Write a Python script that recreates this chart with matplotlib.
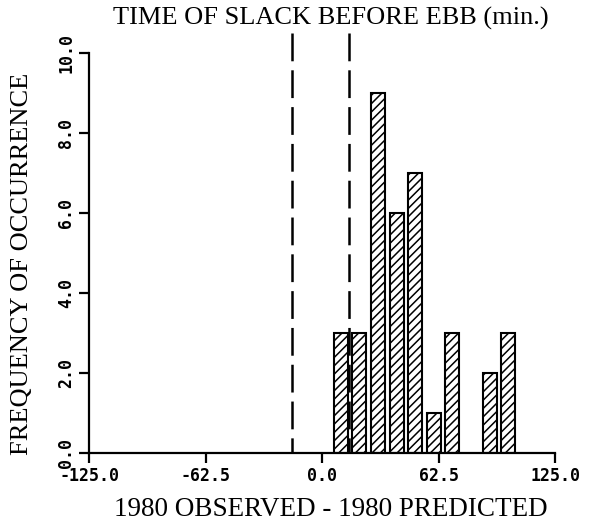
import numpy as np
import matplotlib
matplotlib.use("Agg")
import matplotlib.pyplot as plt

# Histogram of slack-before-ebb timing errors (observed - predicted, minutes)
bin_centers = [10, 20, 30, 40, 50, 60, 70, 90, 100]
counts      = [3, 3, 9, 6, 7, 1, 3, 2, 3]
limit_lines = [-16, 14.5]

x_ticks  = [-125.0, -62.5, 0.0, 62.5, 125.0]
y_ticks  = [0.0, 2.0, 4.0, 6.0, 8.0, 10.0]

SERIF = "Liberation Serif"
MONO  = "DejaVu Sans Mono"

plt.rcParams["lines.scale_dashes"] = False
plt.rcParams["hatch.linewidth"] = 1.1

fig = plt.figure(figsize=(5.96, 5.32), dpi=100)
W, H = 596, 532
ax = fig.add_axes([89 / W, (H - 453) / H, 466 / W, 400 / H])

ax.bar(bin_centers, counts, width=7.5, facecolor="white",
       edgecolor="black", linewidth=1.5, hatch="////", zorder=2)

for xv in limit_lines:
    ax.plot([xv, xv], [10.5, 0], color="black", lw=1.8,
            linestyle=(0, (20, 6.5)), clip_on=False, zorder=3)

ax.set_xlim(-125, 125)
ax.set_ylim(0, 10)
ax.spines["top"].set_visible(False)
ax.spines["right"].set_visible(False)
for s in ("left", "bottom"):
    ax.spines[s].set_linewidth(1.6)

ax.set_xticks(x_ticks)
ax.set_xticklabels([f"{v:.1f}" for v in x_ticks], fontfamily=MONO,
                   fontsize=12, fontweight="bold")
ax.set_yticks(y_ticks)
ax.set_yticklabels([f"{v:.1f}" for v in y_ticks], fontfamily=MONO,
                   fontsize=12, fontweight="bold", rotation=90, va="center")
ax.tick_params(axis="both", direction="out", length=7, width=1.6, pad=3)

fig.text(331 / W, 1 - 18 / H, "TIME OF SLACK BEFORE EBB (min.)",
         fontfamily=SERIF, fontsize=19, ha="center", va="center")
fig.text(331 / W, 1 - 510 / H, "1980 OBSERVED - 1980 PREDICTED",
         fontfamily=SERIF, fontsize=19.5, ha="center", va="center")
fig.text(22 / W, 1 - 264 / H, "FREQUENCY OF OCCURRENCE",
         fontfamily=SERIF, fontsize=19, ha="center", va="center",
         rotation=90)

fig.savefig("out.png", dpi=100, facecolor="white")
